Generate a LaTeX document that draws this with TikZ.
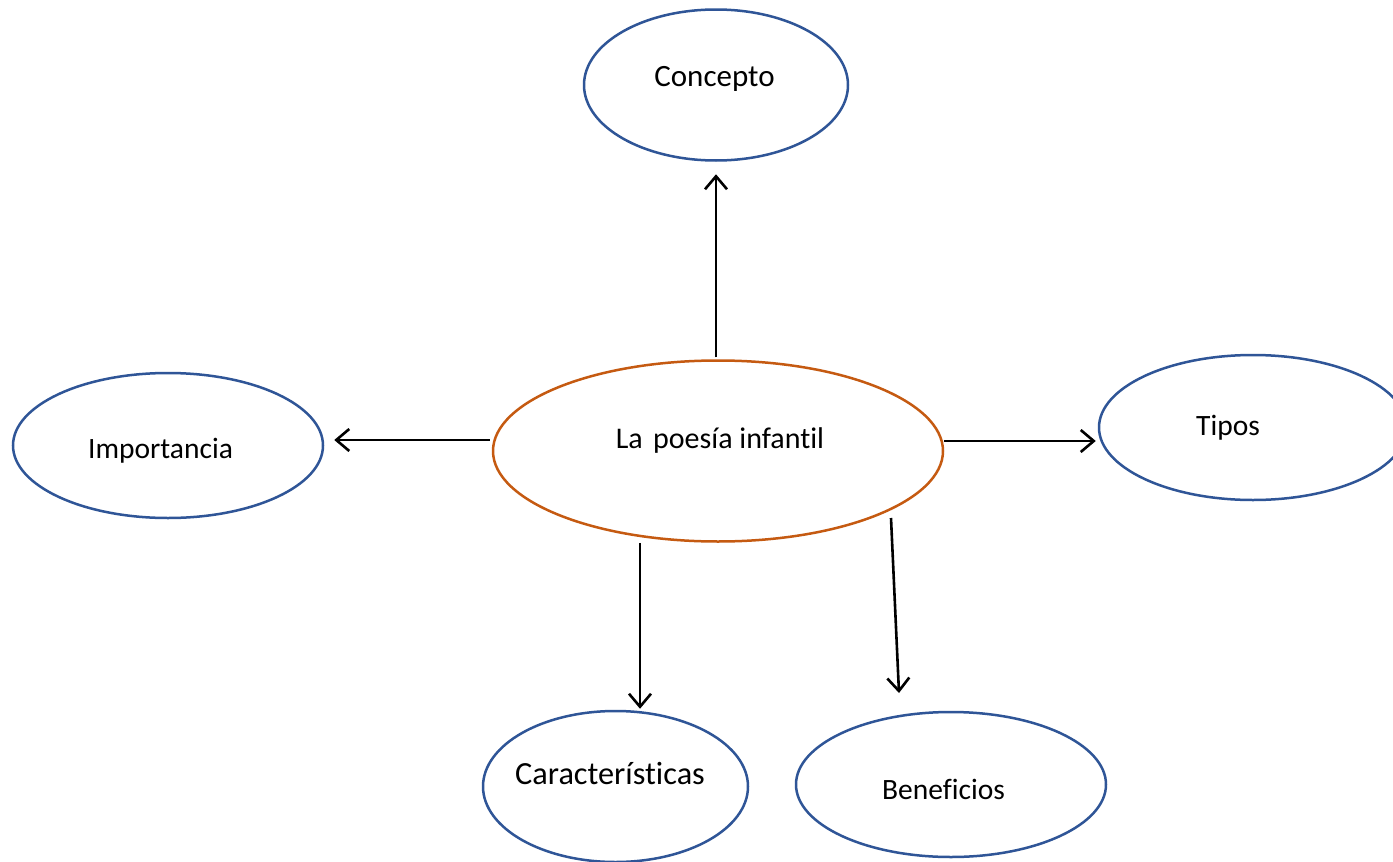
\documentclass[tikz,border=0pt]{standalone}
\usepackage{fontspec}
\setmainfont{Carlito}[Ligatures=NoCommon]
\usetikzlibrary{shapes.geometric,arrows.meta}
\definecolor{bblue}{HTML}{2F5597}
\definecolor{borange}{HTML}{C55A11}
\tikzset{
  bub/.style={ellipse, draw=bblue, line width=2.5pt, inner sep=0pt, fill=white},
  hub/.style={ellipse, draw=borange, line width=2.5pt, inner sep=0pt, fill=white},
  txt/.style={anchor=base, inner sep=0pt, font=\fontsize{29.5}{35}\selectfont},
  arr/.style={line width=2.6pt, -{Straight Barb[length=13pt, width=22pt, line width=2.6pt]}}
}
\begin{document}
\begin{tikzpicture}[x=1pt, y=-1pt]
\useasboundingbox (0,0) rectangle (1393,862);
\fill[white] (0,0) rectangle (1393,862);
\node[bub, minimum width=264pt, minimum height=151pt] (concepto) at (716,85) {};
\node[hub, minimum width=450pt, minimum height=181pt] (poesia) at (718,451) {};
\node[bub, minimum width=310pt, minimum height=145pt] (importancia) at (168,445.5) {};
\node[bub, minimum width=308pt, minimum height=145pt] (tipos) at (1253,427.5) {};
\node[bub, minimum width=265pt, minimum height=151pt] (caract) at (615.5,786.5) {};
\node[bub, minimum width=310pt, minimum height=145pt] (benef) at (951,784.5) {};

\node[txt, font=\fontsize{31}{37}\selectfont] (tconcepto) at (714.5,86) {Concepto};
\node[txt, font=\fontsize{30}{36}\selectfont] (tpoesia) at (720,448) {La\hspace{0.12em} poesía infantil};
\node[txt] (timportancia) at (160.5,458) {Importancia};
\node[txt] (ttipos) at (1228,435) {Tipos};
\node[txt, font=\fontsize{32.3}{39}\selectfont] (tcaract) at (610,784) {Características};
\node[txt] (tbenef) at (943.5,799) {Beneficios};

\coordinate (yl) at (0,440);
\coordinate (yr) at (0,441);
\coordinate (xd) at (640,0);
\coordinate (b1) at (891,518);
\coordinate (b2) at (899,693);

\draw[arr, shorten >=12.5pt, shorten <=2pt] (poesia.north -| concepto.south) -- (concepto.south);
\draw[arr, shorten <=2pt, shorten >=10pt] (poesia.west |- yl) -- (importancia.east |- yl);
\draw[arr, shorten >=2pt] (poesia.east |- yr) -- (tipos.west |- yr);
\draw[arr, shorten >=1pt] (poesia.south -| xd) -- (caract.north -| xd);
\draw[arr] (b1) -- (b2);
\end{tikzpicture}
\end{document}
